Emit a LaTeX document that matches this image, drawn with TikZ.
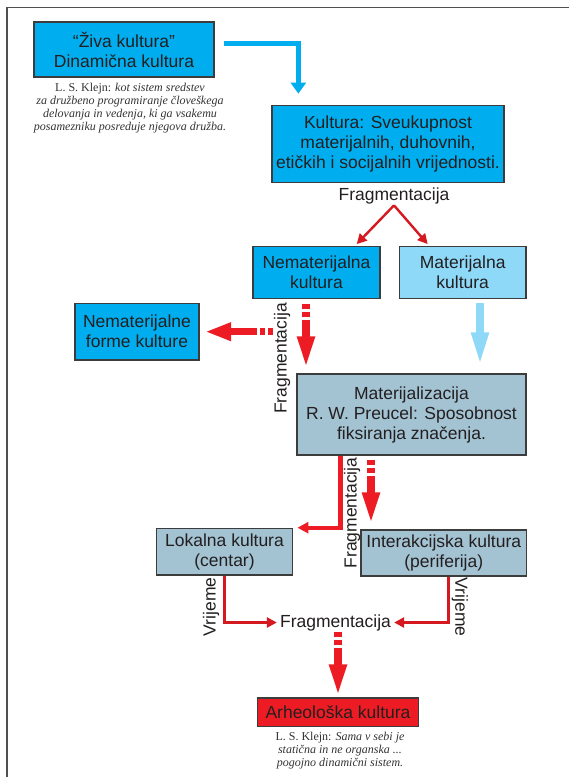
\documentclass[tikz,border=0pt]{standalone}
\usepackage{fontspec}
\setmainfont{Liberation Sans}
\newfontfamily\klejnfont{Liberation Serif}
\usetikzlibrary{
  arrows.meta,
  positioning,
  calc
}
\definecolor{kcyan} {HTML}{00AEEF}
\definecolor{klight}{HTML}{8ED8F8}
\definecolor{kgray} {HTML}{A3C2D2}
\definecolor{kred}  {HTML}{ED1C24}
\definecolor{kline} {HTML}{3C3C3C}
\definecolor{ktext} {HTML}{231F20}

\begin{document}
\begin{tikzpicture}[
  x=1pt, y=-1pt,
  every node/.style={font=\fontsize{17.5}{20}\selectfont, text=ktext},
  box/.style={
    rectangle, draw=kline, line width=1.3pt, align=center, inner sep=1pt
  },
  dyn/.style={box, fill=kcyan},
  mat/.style={box, fill=klight},
  fix/.style={box, fill=kgray},
  arh/.style={box, fill=kred},
  lbl/.style={inner sep=1pt},
  klejn/.style={align=center, inner sep=0pt, text=black!80,
                font=\klejnfont\fontsize{12}{13}\selectfont},
  splitarr/.style={draw=kred!90!black, line width=2.4pt,
                   -{Triangle[length=10pt,width=10pt]}},
  elbow/.style={draw=kred, line width=4.3pt, -{Triangle[length=11pt,width=11pt]}},
  bigarr/.style={draw=kred, line width=7.5pt,
                 dash pattern=on 5pt off 3pt on 5pt off 3pt on 400pt off 1pt,
                 -{Triangle[length=32pt,width=16pt]}},
  bigblue/.style={draw=klight, line width=7.5pt, -{Triangle[length=33pt,width=16pt]}},
  flow/.style={draw=kcyan, line width=4.3pt, -{Triangle[length=11pt,width=15pt]}}
]
\useasboundingbox (0,0) rectangle (569,777);

% Frame
\draw[kline!90, line width=1.5pt] (7,777) -- (7,7.5) -- (569,7.5);

% Dynamic culture
\node[dyn, minimum width=180pt, minimum height=55pt] (ziva) at (124,49.5)
  {“Živa kultura”\\Dinamična kultura};
\node[klejn] (klejnA) at (130,108.5)
  {L. S. Klejn: \textit{kot sistem sredstev}\\
   \textit{za družbeno programiranje človeškega}\\
   \textit{delovanja in vedenja, ki ga vsakemu}\\
   \textit{posamezniku posreduje njegova družba.}};

% Culture
\node[dyn, minimum width=232pt, minimum height=77pt] (kultura) at (388,143.8)
  {Kultura: Sveukupnost\\materijalnih, duhovnih,\\etičkih i socijalnih vrijednosti.};
\node[lbl] (fragtop) at (394,196) {Fragmentacija};

% Non-material / material
\node[dyn, minimum width=127pt, minimum height=51.5pt] (nemat) at (316.5,272.5)
  {Nematerijalna\\kultura};
\node[mat, minimum width=126.7pt, minimum height=51.5pt] (materijal) at (462.7,272.5)
  {Materijalna\\kultura};
\node[dyn, minimum width=124pt, minimum height=56.7pt] (forme) at (137,331.7)
  {Nematerijalne\\forme kulture};
\node[lbl, rotate=90] (fragA) at (282,358.5) {Fragmentacija};

% Materialisation
\node[fix, minimum width=229pt, minimum height=81pt] (materi) at (411.5,414.5)
  {Materijalizacija\\R. W. Preucel: Sposobnost\\fiksiranja značenja.};
\node[lbl, rotate=90] (fragB) at (352,513) {Fragmentacija};

% Local / interaction
\node[fix, minimum width=135.6pt, minimum height=46.7pt] (lokal) at (224.5,551.7)
  {Lokalna kultura\\(centar)};
\node[fix, minimum width=165.7pt, minimum height=46pt] (interak) at (443.8,553)
  {Interakcijska kultura\\(periferija)};
\node[lbl, rotate=90] (vrL) at (211,607) {Vrijeme};
\node[lbl, rotate=-90] (vrR) at (460,607) {Vrijeme};
\node[lbl] (fragbot) at (335.5,622.5) {Fragmentacija};

% Archaeological culture
\node[arh, minimum width=160.6pt, minimum height=28.7pt] (arheo) at (338,712.3)
  {Arheološka kultura};
\node[klejn] (klejnB) at (340,751)
  {L. S. Klejn: \textit{Sama v sebi je}\\
   \textit{statična in ne organska ...}\\
   \textit{pogojno dinamični sistem.}};

% Arrows
\coordinate (zkStart) at ($(ziva.east)+(9,-6)$);
\coordinate (zkEnd) at ($(kultura.north west)+(27,-11)$);
\draw[flow] (zkStart) -| (zkEnd);

\draw[splitarr] (fragtop.south) -- ($(nemat.north east)+(-24,-2)$);
\draw[splitarr] (fragtop.south) -- ($(materijal.north west)+(29,-2)$);

\coordinate (nmTop) at ($(nemat.south)+(-10.5,5)$);
\draw[bigarr, shorten >=5pt] (nmTop) -- (nmTop |- materi.north);
\draw[bigarr, -{Triangle[length=26pt,width=17pt]}, shorten >=5.5pt]
  (fragA.north |- forme.east) -- (forme.east);

\coordinate (mmTop) at ($(materijal.south)+(17.3,4)$);
\draw[bigblue, shorten >=8pt] (mmTop) -- (mmTop |- materi.north);

\coordinate (mlTop) at ($(materi.south west)+(44,0)$);
\coordinate (mlEnd) at ($(lokal.north east)+(4.5,0)$);
\draw[elbow] (mlTop) |- (mlEnd);

\coordinate (miTop) at ($(materi.south)+(-40.5,4)$);
\draw[bigarr, shorten >=5pt] (miTop) -- (miTop |- interak.north);

\draw[splitarr, shorten >=2pt] (lokal.south) |- (fragbot.west);
\coordinate (irBot) at ($(interak.south)+(4.5,0)$);
\draw[splitarr, shorten >=2pt] (irBot) |- (fragbot.east);

\draw[bigarr, shorten >=1pt] (fragbot.south -| arheo.north) -- (arheo.north);

\end{tikzpicture}
\end{document}
